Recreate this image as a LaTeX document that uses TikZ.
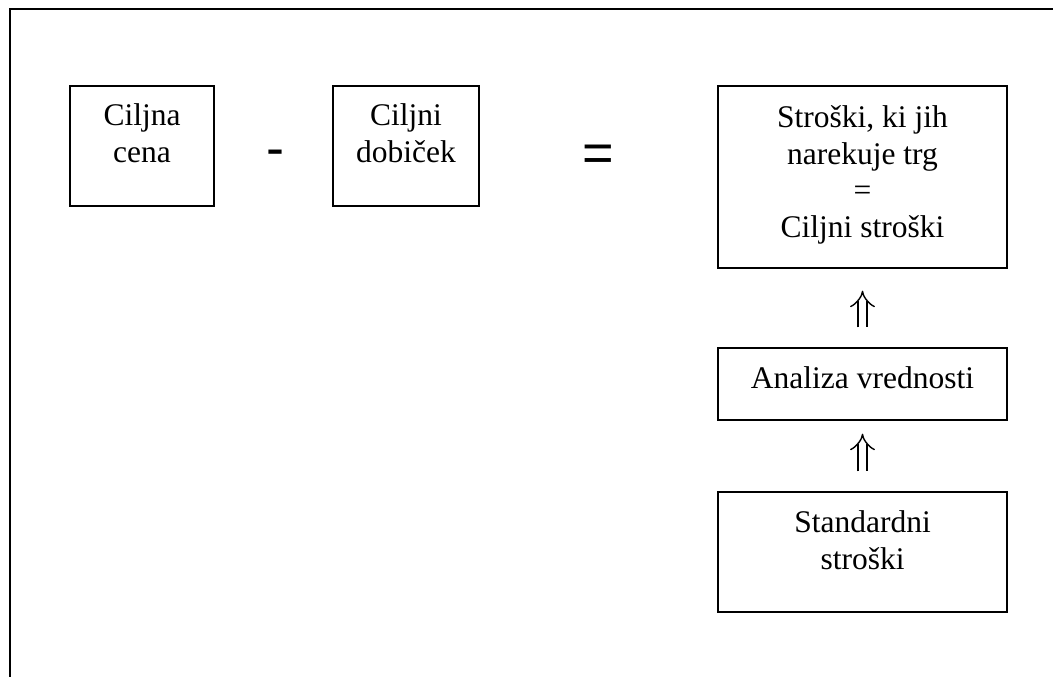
\documentclass[tikz,border=0pt]{standalone}
\usepackage{fontspec}
\setmainfont{Liberation Serif}
\newfontfamily\opfont{Liberation Sans}
\usetikzlibrary{arrows.meta}
\usetikzlibrary{positioning}

\tikzset{
  box/.style={draw, line width=1.4pt, inner sep=0pt},
  txt/.style={font=\fontsize{31.5}{36.5}\selectfont, align=center, anchor=base, inner sep=0pt},
  op/.style={font=\opfont\fontsize{54}{60}\selectfont, anchor=base, inner sep=0pt},
  dbl/.style={double, double distance=7.5pt, line width=1.4pt, -{Implies[scale=1.7]}}
}

\begin{document}
\begin{tikzpicture}[x=1pt, y=-1pt]

	\useasboundingbox (0,0) rectangle (1053,677);
	\draw[line width=1.6pt] (10,677) -- (10,9) -- (1053,9);

	\def\dy{146};
	\def\dx{862.5};

%boxes
    \foreach \name/\cx/\cy/\w/\h in {cena/142/\dy/144/120, dobicek/406/\dy/146/120, trg/\dx/177/289/182, analiza/\dx/384/289/72, standard/\dx/552/289/120} {
         \node[box, minimum width=\w, minimum height=\h] (\name) at (\cx,\cy) {};
    }

%texts (base = last line)
	\node[txt] (cenat) at (142,162) {Ciljna\\cena};
	\node[txt] (dobicekt) at (406,162) {Ciljni\\dobiček};
	\node[txt] (trgt) at (\dx,237) {Stroški, ki jih\\narekuje trg\\=\\Ciljni stroški};
	\node[txt] (analizat) at (\dx,388) {Analiza vrednosti};
	\node[txt] (standardt) at (\dx,569) {Standardni\\stroški};

%operators
	\node[op] (minus) at (275,166) {-};
	\node[op] (equals) at (598,171) {=};

%arrows
	\draw[dbl, shorten <=20pt, shorten >=22pt] (analiza.north) -- (trg.south);
	\draw[dbl, shorten <=20pt, shorten >=13pt] (standard.north) -- (analiza.south);

\end{tikzpicture}
\end{document}
